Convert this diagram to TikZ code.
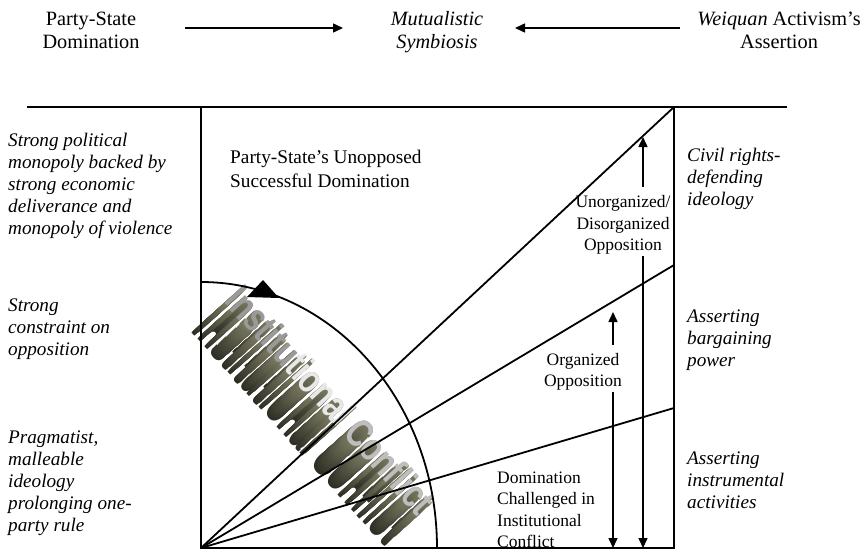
\documentclass[tikz,border=0pt]{standalone}
\usepackage{fontspec}
\setmainfont{Liberation Serif}
\newfontfamily\wafont[FakeStretch=0.75]{Liberation Sans}
\usetikzlibrary{arrows.meta,calc}

\definecolor{waFar}{HTML}{2E2E25}
\definecolor{waNear}{HTML}{77775F}
\definecolor{faceA}{HTML}{9A9A9A}
\definecolor{faceB}{HTML}{E8E8E8}
\definecolor{faceC}{HTML}{BEBEBE}

\newcommand{\watext}[3]{{\color{#1}Institu}{\color{#2}tional}\ {\color{#3}Conflict}}

\tikzset{
  txt/.style={font=\fontsize{17.5}{21.5}\selectfont, inner sep=0pt, align=left},
  ctxt/.style={txt, align=center},
  head/.style={font=\fontsize{20.3}{23}\selectfont, inner sep=0pt, align=center},
  big/.style={font=\fontsize{19.3}{23.5}\selectfont, inner sep=0pt, align=left},
  itxt/.style={font=\fontsize{19.2}{22}\selectfont\itshape, inner sep=0pt, align=left},
  main/.style={line width=1.8pt},
  arr/.style={line width=1.5pt, -{Triangle[length=10pt,width=9pt]}},
  wa/.style={font=\wafont\bfseries\fontsize{40}{40}\selectfont, inner sep=0pt, rotate=-48},
}

\begin{document}
\begin{tikzpicture}[x=1pt,y=-1pt]
\useasboundingbox (0,0) rectangle (865,552);

% --- heading row ---
\node[head] (psd) at (91,30) {Party-State\\Domination};
\node[head, font=\fontsize{20.3}{23}\selectfont\itshape] (ms) at (437,32) {Mutualistic\\Symbiosis};
\node[head] (wa-as) at (779,30) {\textit{Weiquan} Activism's\\Assertion};
\coordinate (la0) at (185,28);
\coordinate (la1) at (343,28);
\coordinate (ra0) at (680,28);
\coordinate (ra1) at (515,28);
\draw[arr] (la0) -- (la1);
\draw[arr] (ra0) -- (ra1);

% --- frame corners ---
\coordinate (org) at (201,548);
\coordinate (tl) at (201,107);
\coordinate (tr) at (674,107);
\coordinate (br) at (674,548);
\coordinate (hl) at (27,107);
\coordinate (hr) at (787,107);
\coordinate (r2) at (674,265);
\coordinate (r3) at (674,408);

% --- extruded "Institutional Conflict" lettering ---
\coordinate (wa) at (331,400);
\foreach \i in {0,...,29}{
  \pgfmathsetmacro\d{44-1.5*\i}
  \pgfmathsetmacro\p{100*\i/29}
  \node[wa, text=waNear!\p!waFar] (wa\i) at ($(wa)+(-0.743*\d,0.669*\d)$)
    {\watext{waNear!\p!waFar}{waNear!\p!waFar}{waNear!\p!waFar}};
}
\node[wa] (waf) at (wa) {\watext{faceA}{faceB}{faceC}};

% --- frame and rays ---
\draw[main] (hl) -- (hr);
\draw[main] (tl) -- (org) -- (br) -- (tr);
\draw[main] (org) -- (tr);
\draw[main] (org) -- (r2);
\draw[main] (org) -- (r3);
\draw[main] (org) ++(236,0) arc[start angle=0, end angle=-90, x radius=236, y radius=266];
\fill (263,280) -- (247,297) -- (279,298) -- cycle;

% --- labels inside the frame ---
\node[big, anchor=west] (unopp) at (230,169) {Party-State's Unopposed\\Successful Domination};
\node[ctxt] (unorg) at (623,225) {Unorganized/\\Disorganized\\Opposition};
\node[ctxt] (org-op) at (583,372) {Organized\\Opposition};
\node[txt, anchor=west] (dom) at (497,510) {Domination\\Challenged in\\Institutional\\Conflict};

% --- vertical arrows ---
\coordinate (a1t) at (643,187);
\coordinate (a1h) at (643,137);
\coordinate (a1b) at (643,256);
\coordinate (a1e) at (643,548);
\coordinate (a2t) at (613,345);
\coordinate (a2h) at (613,312);
\coordinate (a2b) at (613,392);
\coordinate (a2e) at (613,548);
\draw[arr] (a1t) -- (a1h);
\draw[arr] (a1b) -- (a1e);
\draw[arr] (a2t) -- (a2h);
\draw[arr] (a2b) -- (a2e);

% --- left column ---
\node[itxt, anchor=west] (l1) at (8,186) {Strong political\\monopoly backed by\\strong economic\\deliverance and\\monopoly of violence};
\node[itxt, anchor=west] (l2) at (8,329) {Strong\\constraint on\\opposition};
\node[itxt, anchor=west] (l3) at (8,483) {Pragmatist,\\malleable\\ideology\\prolonging one-\\party rule};

% --- right column ---
\node[itxt, anchor=west] (r1t) at (687,179) {Civil rights-\\defending\\ideology};
\node[itxt, anchor=west] (r2t) at (687,340) {Asserting\\bargaining\\power};
\node[itxt, anchor=west] (r3t) at (687,480) {Asserting\\instrumental\\activities};
\end{tikzpicture}
\end{document}
